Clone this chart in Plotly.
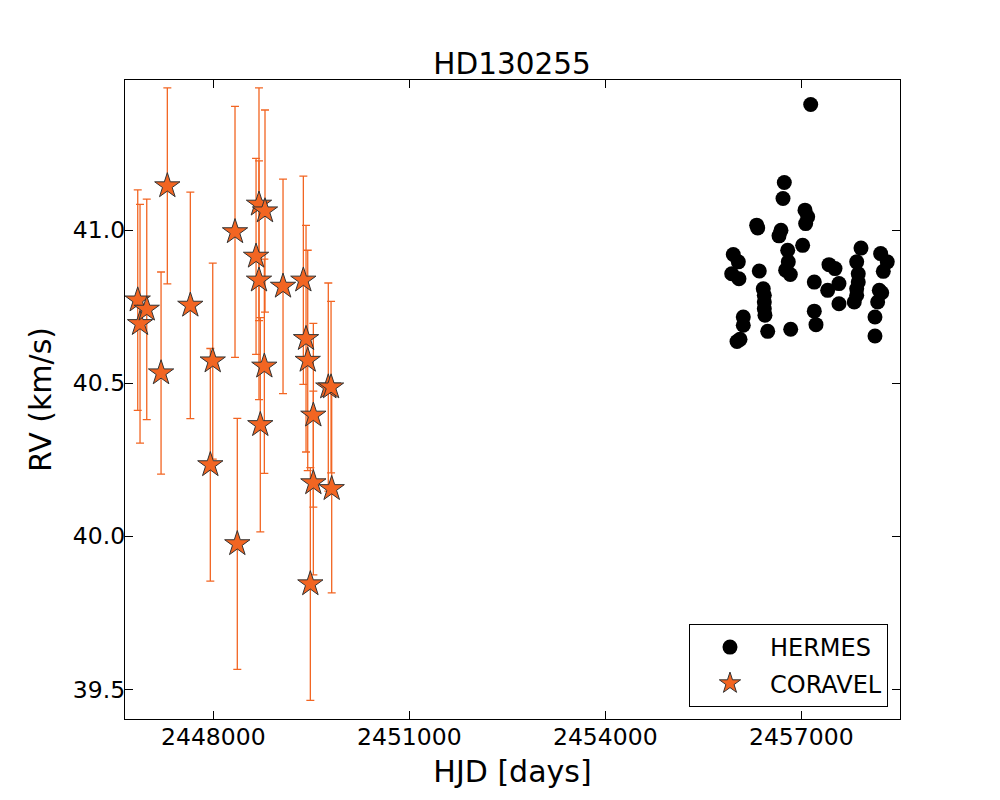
import plotly.graph_objects as go

# CORAVEL radial velocities (HJD, RV, error) in km/s
coravel_hjd = [2446843, 2446878, 2446981, 2447200, 2447296, 2447648, 2447954, 2447991,
               2448332, 2448367, 2448654, 2448699, 2448699, 2448719, 2448781, 2448791,
               2449067, 2449378, 2449419, 2449445, 2449485, 2449531, 2449531, 2449760,
               2449802, 2449812]
coravel_rv = [40.771, 40.694, 40.741, 40.533, 41.144, 40.754, 40.233, 40.572,
              40.994, 39.975, 40.914, 41.084, 40.836, 40.364, 40.555, 41.062,
              40.816, 40.836, 40.645, 40.574, 39.844, 40.395, 40.174, 40.487,
              40.487, 40.155]
coravel_err = [0.36, 0.39, 0.36, 0.33, 0.32, 0.37, 0.38, 0.32,
               0.41, 0.41, 0.32, 0.38, 0.39, 0.35, 0.35, 0.33,
               0.35, 0.34, 0.37, 0.36, 0.38, 0.30, 0.30, 0.34,
               0.28, 0.34]

# HERMES radial velocities
hermes_hjd = [2457144, 2456740, 2456720, 2457057, 2457098, 2457067, 2456317, 2456333,
              2456689, 2456659, 2457021, 2457914, 2458215, 2455959, 2456792, 2456801,
              2456761, 2456832, 2456036, 2455935, 2456046, 2456357, 2457424, 2457516,
              2457848, 2458316, 2458255, 2457872, 2457872, 2457199, 2457577, 2457404,
              2456418, 2456434, 2456434, 2456434, 2456444, 2457848, 2457848, 2457811,
              2457577, 2458194, 2458231, 2458169, 2458128, 2457199, 2457225, 2456112,
              2456112, 2456486, 2456838, 2456062, 2458128, 2456016]
hermes_rv = [41.410, 41.155, 41.103, 41.065, 41.043, 41.021, 41.016, 41.007,
             40.999, 40.981, 40.950, 40.941, 40.923, 40.920, 40.934, 40.896,
             40.869, 40.855, 40.896, 40.857, 40.841, 40.866, 40.887, 40.874,
             40.896, 40.896, 40.865, 40.857, 40.830, 40.830, 40.825, 40.803,
             40.808, 40.787, 40.765, 40.743, 40.722, 40.808, 40.787, 40.765,
             40.759, 40.803, 40.795, 40.765, 40.716, 40.735, 40.691, 40.716,
             40.689, 40.669, 40.676, 40.643, 40.654, 40.636]
hermes_err = [0.01] * len(hermes_rv)

x_ticks = [2448000, 2451000, 2454000, 2457000]
y_ticks = [39.5, 40.0, 40.5, 41.0]

orange = "#f26522"

hermes = go.Scatter(
    x=hermes_hjd, y=hermes_rv, mode="markers", name="HERMES", legendgroup="h",
    marker=dict(symbol="circle", size=15, color="black"),
    error_y=dict(type="data", array=hermes_err, color="black", thickness=1, width=3),
)
coravel = go.Scatter(
    x=coravel_hjd, y=coravel_rv, mode="markers", name="CORAVEL", legendgroup="c",
    marker=dict(symbol="star", size=19, color=orange, line=dict(color="#333333", width=1)),
    error_y=dict(type="data", array=coravel_err, color=orange, thickness=1.3, width=4),
)

axis_common = dict(
    showgrid=False, zeroline=False, showline=True, linecolor="black", linewidth=1.2,
    mirror="ticks", ticks="inside", ticklen=8, tickcolor="black",
    tickfont=dict(size=23.5, color="black"),
)

# the page body adds an 8px offset, so margins are shifted to compensate
layout = go.Layout(
    width=1000, height=800,
    margin=dict(l=117, r=108, t=72, b=89),
    paper_bgcolor="white", plot_bgcolor="white",
    font=dict(family="DejaVu Sans", color="black"),
    title=dict(text="HD130255", x=0.504, xanchor="center", y=0.931, yanchor="middle",
               font=dict(size=29.5, color="black")),
    xaxis=dict(axis_common, range=[2446648, 2458511], tickvals=x_ticks,
               ticktext=[str(v) for v in x_ticks], ticklabelstandoff=-3,
               title=dict(text="HJD [days]", font=dict(size=30), standoff=10)),
    yaxis=dict(axis_common, range=[39.403, 41.490], tickvals=y_ticks, tickformat=".1f",
               ticklabelstandoff=-6,
               title=dict(text="RV (km/s)", font=dict(size=30), standoff=12)),
    legend=dict(x=0.9845, y=0.0188, xanchor="right", yanchor="bottom",
                bordercolor="black", borderwidth=1, bgcolor="white",
                font=dict(size=24, color="black"), itemwidth=70, tracegroupgap=2),
    showlegend=True,
)

fig = go.Figure(data=[hermes, coravel], layout=layout)
fig.write_html("out.html")
